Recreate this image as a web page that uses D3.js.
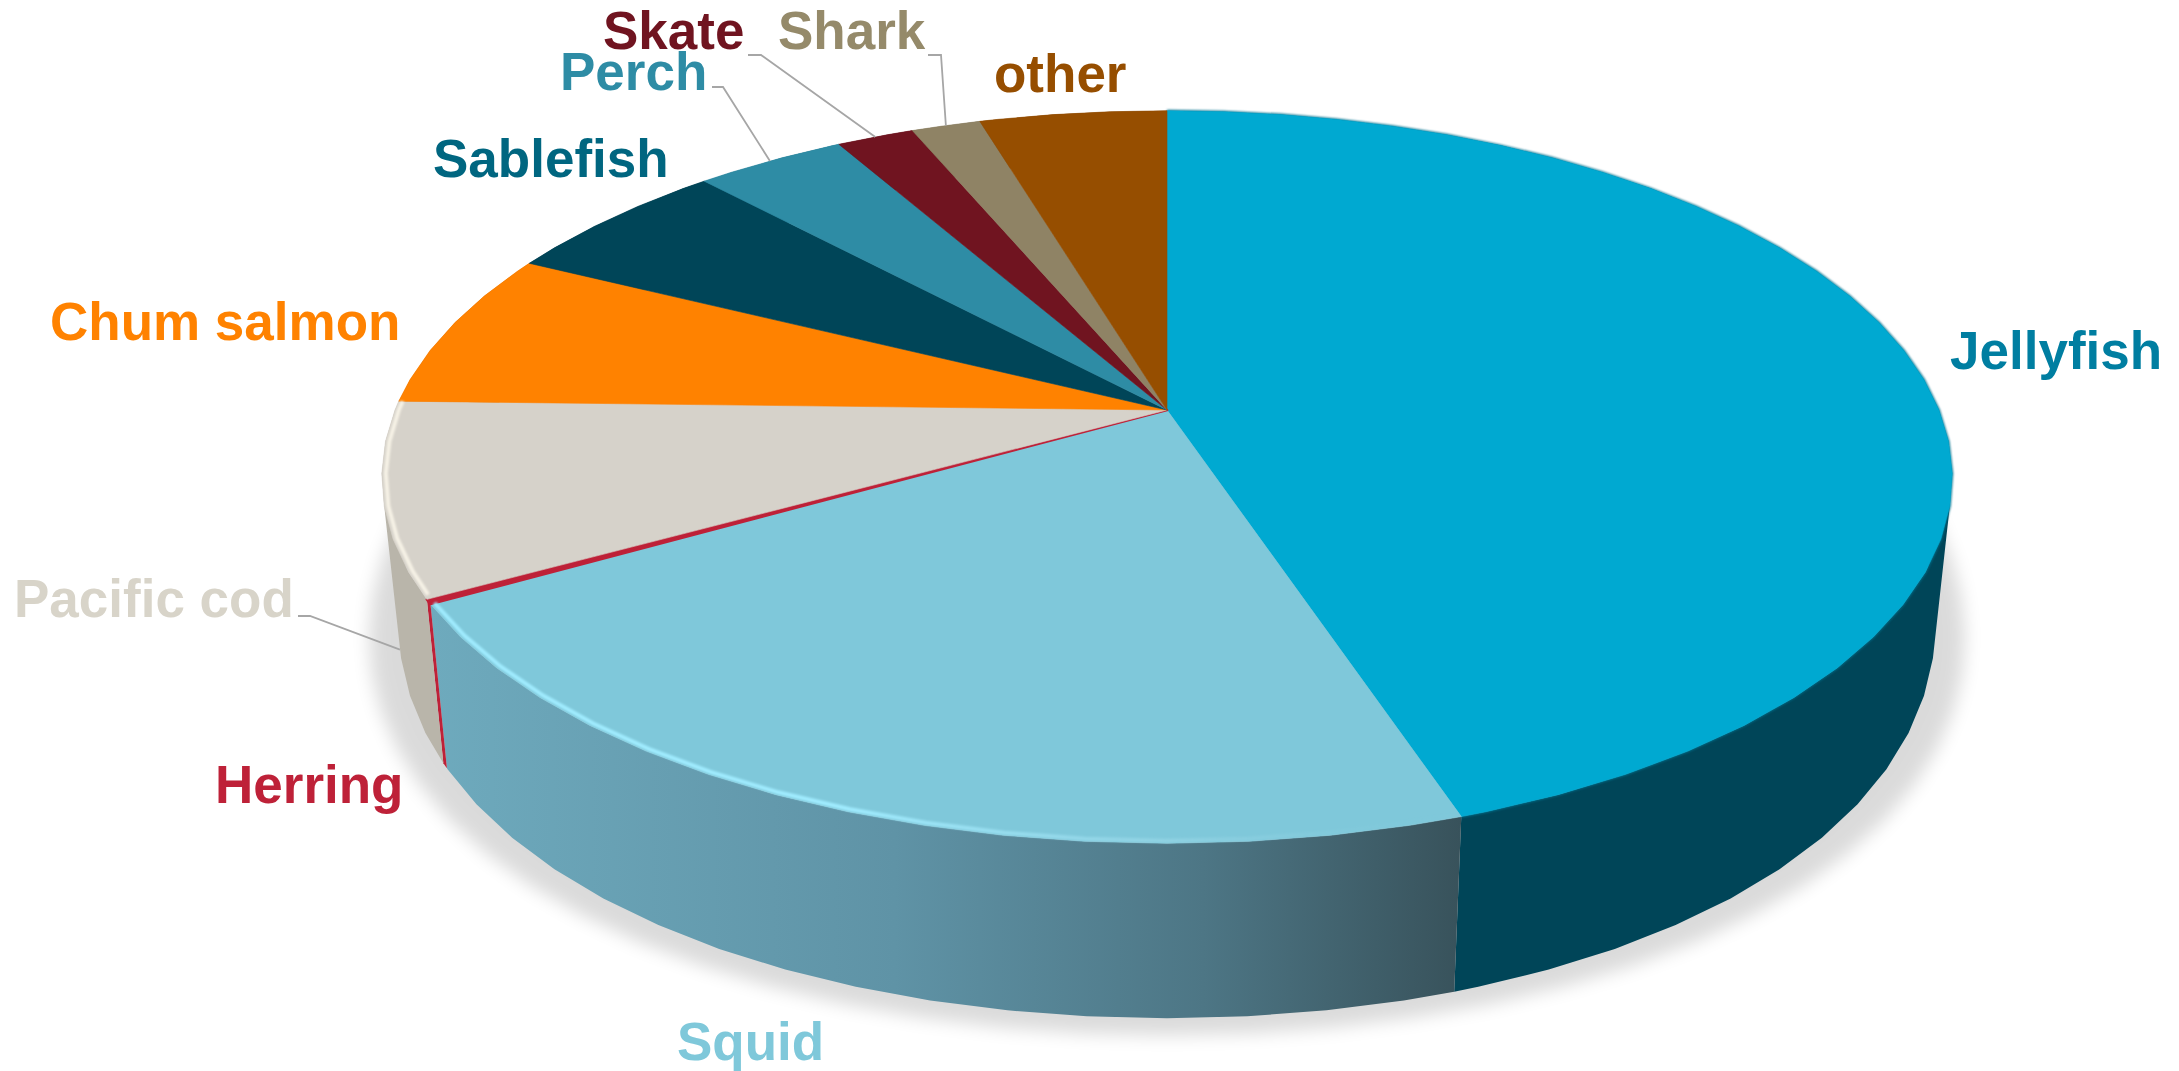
<!DOCTYPE html>
<html>
<head>
<meta charset="utf-8">
<script src="https://cdn.jsdelivr.net/npm/d3@7"></script>
<style>
    html, body { margin: 0; padding: 0; background: #fff; }
    svg { display: block; }
    text { font-family: "Liberation Sans", Arial, sans-serif; font-weight: bold; font-size: 53px; }
</style>
</head>
<body>
<div id="chart"></div>
<script>
const categories = ['Jellyfish', 'Squid', 'Herring', 'Pacific cod', 'Chum salmon', 'Sablefish', 'Perch', 'Skate', 'Shark', 'other']
const shares = [44.9, 21.8, 0.2, 8.5, 7.0, 5.7, 3.7, 1.9, 1.7, 4.6]

const sliceColors = ['#00a9d1', '#7fc8da', '#be2138', '#d6d2ca', '#ff8200', '#004558', '#2e8ca5', '#701420', '#8f8365', '#964e00']
const wallColors = ['#004558', 'url(#squidWall)', '#be2138', '#b9b5aa', '#b35b00', '#00303e', '#206274', '#4e0e16', '#645c47', '#693700']
const labelColors = ['#007ea1', '#7fc8da', '#be2138', '#d8d4c9', '#ff8200', '#006680', '#2e8ca5', '#701420', '#958a6a', '#964e00']

// label anchor: left x, baseline y
const labelPos = [[1950, 369], [677, 1060], [215, 803], [14, 617], [50, 340], [433, 177], [560, 90], [603, 49], [778, 49], [994, 92]]
// leader start: text end x, y, elbow x. null = no leader
const leaders = [null, null, null, [298, 616, 310], null, null, [712, 87, 723], [748, 55, 761], [928, 55, 941], null]

const width = 2179
const height = 1071

// top face and base of the disc, both a circle under perspective
const topPlane = { x0: 1167, y0: 410, A: 354, B: 772, p: -0.183, px: -0.183 }
const basePlane = { x0: 1167, y0: 545, A: 426, B: 756, p: -0.1, px: -0.18 }
const shadowPlane = { x0: 1167, y0: 560, A: 428, B: 785, p: -0.1, px: -0.18 }

const project = (a, r, plane) => {
    const u = r * Math.sin(a)
    const v = -r * Math.cos(a)
    return [plane.x0 + plane.B * u / (1 + plane.px * v), plane.y0 + plane.A * v / (1 + plane.p * v)]
}

// facets every 5 degrees, the source pie is a polygon too
const facet = Math.PI / 36
const arcAngles = (a0, a1) => {
    const inner = d3.range(Math.ceil(a0 / facet + 1e-6), Math.floor(a1 / facet - 1e-6) + 1).map((i) => i * facet)
    return [a0, ...inner, a1]
}
const arcPoints = (a0, a1, r, plane) => arcAngles(a0, a1).map((a) => project(a, r, plane))

const line = d3.line()
const closed = (pts) => line(pts) + 'Z'

const slices = d3.pie().sort(null).startAngle(0).endAngle(2 * Math.PI)(shares)

const svg = d3.select('#chart').append('svg').attr('width', width).attr('height', height)
const defs = svg.append('defs')

defs.append('filter').attr('id', 'shadowBlur').attr('x', '-10%').attr('y', '-10%').attr('width', '120%').attr('height', '120%')
    .append('feGaussianBlur').attr('stdDeviation', 9)
defs.append('filter').attr('id', 'rimBlur').attr('x', '-5%').attr('y', '-5%').attr('width', '110%').attr('height', '110%')
    .append('feGaussianBlur').attr('stdDeviation', 1.1)

const squid = slices[1]
const squidX0 = project(squid.endAngle, 1, topPlane)[0]
const squidX1 = project(squid.startAngle, 1, topPlane)[0]

const addGradient = (id, stops) => {
    const g = defs.append('linearGradient').attr('id', id).attr('gradientUnits', 'userSpaceOnUse')
        .attr('x1', squidX0).attr('x2', squidX1).attr('y1', 0).attr('y2', 0)
    stops.forEach((s) => g.append('stop').attr('offset', s[0]).attr('stop-color', s[1]).attr('stop-opacity', s[2]))
}
addGradient('squidWall', [[0, '#6eaabd', 1], [0.45, '#5f93a6', 1], [0.75, '#4d7685', 1], [1, '#38525b', 1]])
addGradient('squidRim', [[0, '#a0ecff', 1], [0.4, '#a0ecff', 1], [0.72, '#9ad8e8', 0.6], [1, '#7fc8da', 0]])

// shadow
svg.append('path')
    .attr('d', closed(arcPoints(0, 2 * Math.PI, 1, shadowPlane)))
    .attr('fill', '#000')
    .attr('opacity', 0.14)
    .attr('filter', 'url(#shadowBlur)')

// side walls: one path per slice, every facet quad wound the same way
// so that front and back quads do not cancel out under the fill rule
const wallPath = (d) =>
    d3.pairs(arcAngles(d.startAngle, d.endAngle))
        .map(([a0, a1]) => {
            const quad = [project(a0, 1, topPlane), project(a1, 1, topPlane), project(a1, 1, basePlane), project(a0, 1, basePlane)]
            return closed(d3.polygonArea(quad) < 0 ? quad.reverse() : quad)
        })
        .join('')
svg.append('g').selectAll('path').data(slices).join('path')
    .attr('d', wallPath)
    .attr('fill', (d, i) => wallColors[i])

// soft edge between wall and face, drawn before the face
const jelly = slices[0]
const cod = slices[3]
svg.append('path')
    .attr('d', line(arcPoints(jelly.startAngle, jelly.endAngle, 1, topPlane)))
    .attr('fill', 'none')
    .attr('stroke', '#00708c')
    .attr('stroke-width', 2)
    .attr('filter', 'url(#rimBlur)')

// top face
svg.append('g').selectAll('path').data(slices).join('path')
    .attr('d', (d) => closed([[topPlane.x0, topPlane.y0], ...arcPoints(d.startAngle, d.endAngle, 1, topPlane)]))
    .attr('fill', (d, i) => sliceColors[i])
    .attr('stroke', (d, i) => sliceColors[i])
    .attr('stroke-width', (d, i) => (i === 2 ? 2.5 : 0.6))
    .attr('stroke-linejoin', 'round')

// bevel highlights on the front rim
svg.append('path')
    .attr('d', line(arcPoints(squid.startAngle, squid.endAngle, 0.995, topPlane)))
    .attr('fill', 'none')
    .attr('stroke', 'url(#squidRim)')
    .attr('stroke-width', 4)
    .attr('filter', 'url(#rimBlur)')
svg.append('path')
    .attr('d', line(arcPoints(cod.startAngle + 0.01, cod.endAngle, 0.995, topPlane)))
    .attr('fill', 'none')
    .attr('stroke', '#f6f2e6')
    .attr('stroke-width', 4)
    .attr('filter', 'url(#rimBlur)')

// leaders run to the middle of the slice rim
svg.append('g').selectAll('path').data(slices.filter((d, i) => leaders[i])).join('path')
    .attr('d', (d) => {
        const [x, y, elbow] = leaders[d.index]
        const mid = (d.startAngle + d.endAngle) / 2
        // the cod leader ends on the wall, the back ones on the top rim
        const end = project(mid, 1, d.index === 3 ? basePlane : topPlane)
        return line([[x, y], [elbow, y], end])
    })
    .attr('fill', 'none')
    .attr('stroke', '#a6a6a6')
    .attr('stroke-width', 1.8)

svg.append('g').selectAll('text').data(categories).join('text')
    .attr('x', (d, i) => labelPos[i][0])
    .attr('y', (d, i) => labelPos[i][1])
    .attr('fill', (d, i) => labelColors[i])
    .text((d) => d)
</script>
</body>
</html>
